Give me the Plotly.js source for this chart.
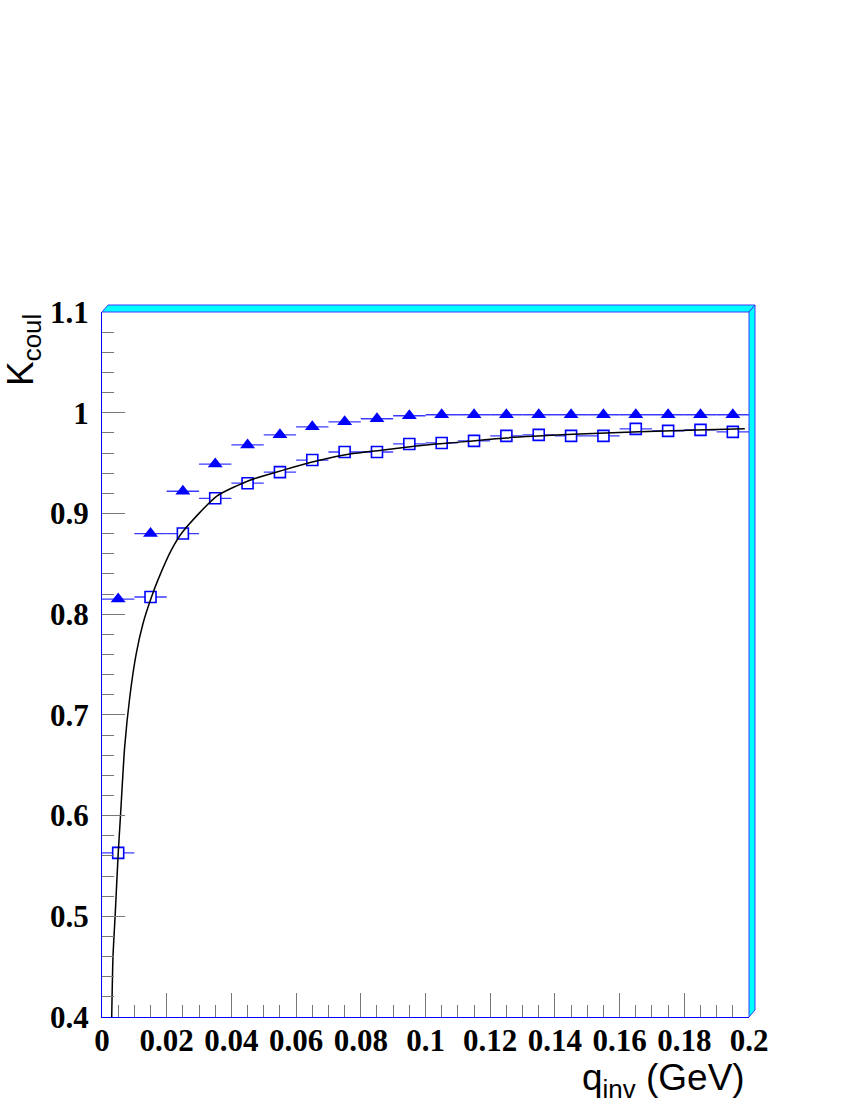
<!DOCTYPE html>
<html>
<head>
<meta charset="utf-8">
<script src="https://cdn.plot.ly/plotly-3.0.1.min.js"></script>
<style>
  html, body { margin: 0; padding: 0; background: #fff; }
  #kcoul { width: 850px; height: 1100px; }
</style>
</head>
<body>
<div id="kcoul"></div>
<script>
// bin centres in q_inv (GeV) and half bin width
var qBins = [0.005, 0.015, 0.025, 0.035, 0.045, 0.055, 0.065, 0.075, 0.085, 0.095,
             0.105, 0.115, 0.125, 0.135, 0.145, 0.155, 0.165, 0.175, 0.185, 0.195];
var qHalfWidth = [0.005, 0.005, 0.005, 0.005, 0.005, 0.005, 0.005, 0.005, 0.005, 0.005,
                  0.005, 0.005, 0.005, 0.005, 0.005, 0.005, 0.005, 0.005, 0.005, 0.005];

// filled triangles
var kTriangles = [0.815, 0.880, 0.922, 0.949, 0.968, 0.978, 0.986, 0.991, 0.994, 0.997,
                  0.998, 0.998, 0.998, 0.998, 0.998, 0.998, 0.998, 0.998, 0.998, 0.998];

// open squares
var kSquares = [0.563, 0.817, 0.880, 0.915, 0.930, 0.941, 0.953, 0.961, 0.961, 0.969,
                0.970, 0.972, 0.977, 0.978, 0.977, 0.977, 0.984, 0.982, 0.983, 0.981];

// fitted curve
var fitQ = [0.0030, 0.0034, 0.0041, 0.0050, 0.0057, 0.0070, 0.0086, 0.0106, 0.0127, 0.0153,
            0.0173, 0.0215, 0.0250, 0.0354, 0.0457, 0.0560, 0.0663, 0.0766, 0.0869, 0.0972,
            0.1075, 0.1250, 0.1456, 0.1660, 0.1868, 0.1987];
var fitK = [0.400, 0.460, 0.503, 0.562, 0.599, 0.668, 0.718, 0.761, 0.791, 0.817,
            0.834, 0.864, 0.882, 0.917, 0.933, 0.943, 0.952, 0.959, 0.963, 0.967,
            0.970, 0.975, 0.9785, 0.981, 0.983, 0.984];

var xTicks = [0, 0.02, 0.04, 0.06, 0.08, 0.1, 0.12, 0.14, 0.16, 0.18, 0.2];
var xTickText = ['0', '0.02', '0.04', '0.06', '0.08', '0.1', '0.12', '0.14', '0.16', '0.18', '0.2'];
var yTicks = [0.4, 0.5, 0.6, 0.7, 0.8, 0.9, 1.0, 1.1];
var yTickText = ['0.4', '0.5', '0.6', '0.7', '0.8', '0.9', '1', '1.1'];

var blue = '#0000ff';
var errBlue = '#3a3aff';
var tickGrey = '#777777';

var traces = [
	{
		type: 'scatter',
		mode: 'markers',
		x: qBins,
		y: kTriangles,
		error_x: { type: 'data', array: qHalfWidth, color: errBlue, thickness: 1.3, width: 0 },
		marker: { symbol: 'triangle-up', size: 13, color: blue, line: { width: 0 } },
		hoverinfo: 'x+y'
	},
	{
		type: 'scatter',
		mode: 'markers',
		x: qBins,
		y: kSquares,
		error_x: { type: 'data', array: qHalfWidth, color: errBlue, thickness: 1.3, width: 0 },
		marker: { symbol: 'square', size: 11, color: '#ffffff', line: { width: 1.6, color: blue } },
		hoverinfo: 'x+y'
	},
	{
		type: 'scatter',
		mode: 'lines',
		x: fitQ,
		y: fitK,
		line: { color: '#000000', width: 1.5, shape: 'spline', smoothing: 0.6 },
		hoverinfo: 'skip'
	}
];

// little 3D frame on the top and right side (paper units)
var dx = 6 / 647, dy = 7 / 705;

var tickFont = { family: 'Liberation Serif', size: 31, color: '#000', weight: 'bold' };

var layout = {
	width: 850,
	height: 1100,
	margin: { l: 102, r: 101, t: 312, b: 83 },
	paper_bgcolor: '#ffffff',
	plot_bgcolor: '#ffffff',
	showlegend: false,
	xaxis: {
		range: [0, 0.2],
		tickmode: 'array',
		tickvals: xTicks,
		ticktext: xTickText,
		ticks: 'inside',
		ticklen: 24,
		tickwidth: 1,
		tickcolor: tickGrey,
		minor: { dtick: 0.005, ticks: 'inside', ticklen: 12, tickwidth: 1, tickcolor: tickGrey, showgrid: false },
		showgrid: false,
		zeroline: false,
		showline: true,
		linecolor: blue,
		linewidth: 1,
		tickfont: tickFont,
		ticklabelstandoff: -4
	},
	yaxis: {
		range: [0.4, 1.1],
		tickmode: 'array',
		tickvals: yTicks,
		ticktext: yTickText,
		ticks: 'inside',
		ticklen: 23,
		tickwidth: 1,
		tickcolor: tickGrey,
		minor: { dtick: 0.02, tick0: 0.4, ticks: 'inside', ticklen: 12, tickwidth: 1, tickcolor: tickGrey, showgrid: false },
		showgrid: false,
		zeroline: false,
		showline: true,
		linecolor: blue,
		linewidth: 1,
		tickfont: tickFont,
		ticklabelstandoff: 6
	},
	shapes: [
		{
			type: 'path', xref: 'paper', yref: 'paper', layer: 'above',
			path: 'M 0 1 L 1 1 L ' + (1 + dx) + ' ' + (1 + dy) + ' L ' + dx + ' ' + (1 + dy) + ' Z',
			fillcolor: '#00ffff', line: { color: '#3a3aff', width: 1 }
		},
		{
			type: 'path', xref: 'paper', yref: 'paper', layer: 'above',
			path: 'M 1 1 L ' + (1 + dx) + ' ' + (1 + dy) + ' L ' + (1 + dx) + ' ' + dy + ' L 1 0 Z',
			fillcolor: '#00ffff', line: { color: '#3a3aff', width: 1 }
		}
	],
	annotations: [
		{
			text: 'K<sub>coul</sub>',
			xref: 'paper', yref: 'paper', x: 0, y: 1,
			xanchor: 'center', yanchor: 'top',
			xshift: -79, yshift: 0,
			textangle: -90,
			showarrow: false,
			font: { family: 'Liberation Sans', size: 37, color: '#000' }
		},
		{
			text: 'q<sub>inv</sub> (GeV)',
			xref: 'paper', yref: 'paper', x: 1, y: 0,
			xanchor: 'right', yanchor: 'top',
			xshift: -2, yshift: -38,
			showarrow: false,
			font: { family: 'Liberation Sans', size: 37, color: '#000' }
		}
	]
};

Plotly.newPlot('kcoul', traces, layout, { displayModeBar: false, staticPlot: true });
</script>
</body>
</html>
